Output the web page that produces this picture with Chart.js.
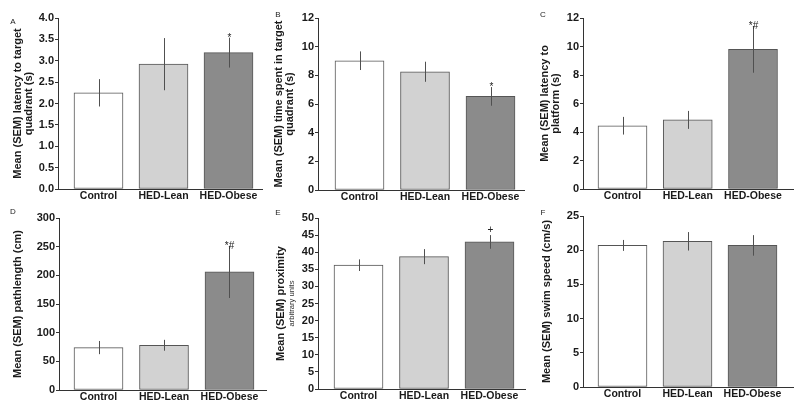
<!DOCTYPE html>
<html><head><meta charset="utf-8">
<script src="https://cdn.jsdelivr.net/npm/chart.js@4"></script>
<style>
html,body{margin:0;padding:0;background:#fff;}
body{width:800px;height:407px;position:relative;overflow:hidden;}
canvas{position:absolute;display:block;}
</style></head><body>
<canvas id="cA" width="270" height="204" style="left:0px;top:0px;"></canvas>
<canvas id="cB" width="270" height="204" style="left:265px;top:0px;"></canvas>
<canvas id="cC" width="270" height="204" style="left:530px;top:0px;"></canvas>
<canvas id="cD" width="270" height="207" style="left:0px;top:200px;"></canvas>
<canvas id="cE" width="270" height="207" style="left:265px;top:200px;"></canvas>
<canvas id="cF" width="270" height="207" style="left:530px;top:200px;"></canvas>
<script>
// ---- data ----
const categories = ["Control", "HED-Lean", "HED-Obese"];

const latencyQuadrantMean = [2.25, 2.92, 3.19];
const latencyQuadrantSem  = [0.32, 0.61, 0.35];
const latencyQuadrantSig  = ["", "", "*"];
const latencyQuadrantTicks = [0, 0.5, 1.0, 1.5, 2.0, 2.5, 3.0, 3.5, 4.0];

const timeQuadrantMean = [9.02, 8.25, 6.53];
const timeQuadrantSem  = [0.65, 0.70, 0.65];
const timeQuadrantSig  = ["", "", "*"];
const timeQuadrantTicks = [0, 2, 4, 6, 8, 10, 12];

const latencyPlatformMean = [4.44, 4.85, 9.80];
const latencyPlatformSem  = [0.62, 0.63, 1.64];
const latencyPlatformSig  = ["", "", "*#"];
const latencyPlatformTicks = [0, 2, 4, 6, 8, 10, 12];

const pathlengthMean = [74, 78, 206];
const pathlengthSem  = [11.5, 9.5, 45.5];
const pathlengthSig  = ["", "", "*#"];
const pathlengthTicks = [0, 50, 100, 150, 200, 250, 300];

const proximityMean = [36.2, 38.7, 43.0];
const proximitySem  = [1.7, 2.2, 2.0];
const proximitySig  = ["", "", "+"];
const proximityTicks = [0, 5, 10, 15, 20, 25, 30, 35, 40, 45, 50];

const swimSpeedMean = [20.7, 21.3, 20.7];
const swimSpeedSem  = [0.8, 1.35, 1.5];
const swimSpeedSig  = ["", "", ""];
const swimSpeedTicks = [0, 5, 10, 15, 20, 25];

// ---- styles / layout ----
const FONT = "'Liberation Sans', Arial, sans-serif";
const barColors = ["#ffffff", "#d2d2d2", "#8b8b8b"];
const barBorder = "#555555";
const axisColor = "#333333";
const textColor = "#1a1a1a";

const panels = [
  {id:"cA", letter:"A", title:["Mean (SEM) latency to target", "quadrant (s)"], sub:null,
   mean:latencyQuadrantMean, sem:latencyQuadrantSem, sig:latencyQuadrantSig, ticks:latencyQuadrantTicks, dec:1,
   L:{left:0, top:0, width:270, height:204, axisX:58, plotTop:18, plotBottom:189, plotRight:262, c0:98.5, c2:228.5, t1:18, lx:13, ly:22}},
  {id:"cB", letter:"B", title:["Mean (SEM) time spent in target", "quadrant (s)"], sub:null,
   mean:timeQuadrantMean, sem:timeQuadrantSem, sig:timeQuadrantSig, ticks:timeQuadrantTicks, dec:0,
   L:{left:265, top:0, width:270, height:204, axisX:318, plotTop:18, plotBottom:190, plotRight:524, c0:359.5, c2:490.5, t1:14, lx:13, ly:15}},
  {id:"cC", letter:"C", title:["Mean (SEM) latency to", "platform (s)"], sub:null,
   mean:latencyPlatformMean, sem:latencyPlatformSem, sig:latencyPlatformSig, ticks:latencyPlatformTicks, dec:0,
   L:{left:530, top:0, width:270, height:204, axisX:583, plotTop:18, plotBottom:189, plotRight:793, c0:622.5, c2:753, t1:15, lx:13, ly:15}},
  {id:"cD", letter:"D", title:"Mean (SEM) pathlength (cm)", sub:null,
   mean:pathlengthMean, sem:pathlengthSem, sig:pathlengthSig, ticks:pathlengthTicks, dec:0,
   L:{left:0, top:200, width:270, height:207, axisX:59, plotTop:218, plotBottom:390, plotRight:266, c0:98.5, c2:229.5, t1:18, lx:13, ly:12}},
  {id:"cE", letter:"E", title:"Mean (SEM) proximity", sub:"arbitrary units",
   mean:proximityMean, sem:proximitySem, sig:proximitySig, ticks:proximityTicks, dec:0,
   L:{left:265, top:200, width:270, height:207, axisX:318, plotTop:218, plotBottom:389, plotRight:525, c0:358.5, c2:489.5, t1:16, lx:13, ly:13}},
  {id:"cF", letter:"F", title:"Mean (SEM) swim speed (cm/s)", sub:null,
   mean:swimSpeedMean, sem:swimSpeedSem, sig:swimSpeedSig, ticks:swimSpeedTicks, dec:0,
   L:{left:530, top:200, width:270, height:207, axisX:583, plotTop:216, plotBottom:387, plotRight:793, c0:622.5, c2:752.5, t1:17, lx:13, ly:13}}
];

function makePlugin(p) {
  return {
    id: "extras" + p.id,
    afterDatasetsDraw(chart) {
      const ctx = chart.ctx;
      const ys = chart.scales.y;
      const meta = chart.getDatasetMeta(0);
      ctx.save();
      meta.data.forEach((bar, i) => {
        const yTop = ys.getPixelForValue(p.mean[i] + p.sem[i]);
        const yBot = ys.getPixelForValue(p.mean[i] - p.sem[i]);
        const x = Math.round(bar.x) + 0.5;
        ctx.strokeStyle = "#505050";
        ctx.lineWidth = 1;
        ctx.beginPath();
        ctx.moveTo(x, yTop);
        ctx.lineTo(x, yBot);
        ctx.stroke();
        if (p.sig[i]) {
          ctx.fillStyle = "#222";
          ctx.font = "10px " + FONT;
          ctx.textAlign = "center";
          ctx.textBaseline = "alphabetic";
          const base = p.sig[i].indexOf("+") >= 0 ? yTop - 2 : yTop + 3;
          ctx.fillText(p.sig[i], x, base);
        }
      });
      // panel letter
      ctx.fillStyle = "#222";
      ctx.font = "8px " + FONT;
      ctx.textAlign = "center";
      ctx.textBaseline = "middle";
      ctx.fillText(p.letter, p.L.lx, p.L.ly);
      // sub-title (smaller, regular)
      if (p.sub) {
        const cy = (chart.chartArea.top + chart.chartArea.bottom) / 2;
        ctx.translate(p.L.t1 + 11, cy);
        ctx.rotate(-Math.PI / 2);
        ctx.fillStyle = "#333";
        ctx.font = "7.6px " + FONT;
        ctx.textAlign = "center";
        ctx.textBaseline = "middle";
        ctx.fillText(p.sub, 0, 0);
      }
      ctx.restore();
    }
  };
}

panels.forEach(p => {
  const L = p.L;
  const spacing = (L.c2 - L.c0) / 2;
  const xMin = -(L.c0 - L.axisX) / spacing;
  const xMax = 2 + (L.plotRight - L.c2) / spacing;
  const yWidth = L.axisX - L.left;
  const xHeight = (L.top + L.height) - L.plotBottom;
  new Chart(document.getElementById(p.id), {
    type: "bar",
    data: {
      datasets: [{
        data: categories.map((c, i) => ({x: i, y: p.mean[i]})),
        backgroundColor: barColors,
        borderColor: barBorder,
        borderWidth: 1,
        borderSkipped: false,
        barThickness: 49
      }]
    },
    options: {
      responsive: false,
      animation: false,
      devicePixelRatio: 1,
      layout: {padding: {top: L.plotTop - L.top, right: (L.left + L.width) - L.plotRight, bottom: 0, left: 0}},
      plugins: {legend: {display: false}, tooltip: {enabled: false}},
      scales: {
        x: {
          type: "linear",
          offset: false,
          min: xMin, max: xMax,
          grid: {display: false, drawTicks: false, offset: false},
          border: {display: true, color: axisColor, width: 1},
          afterBuildTicks: s => { s.ticks = categories.map((c, i) => ({value: i})); },
          afterFit: s => { s.height = xHeight; },
          ticks: {
            callback: v => categories[v] ?? "",
            color: textColor, padding: 1, maxRotation: 0, autoSkip: false,
            font: {family: FONT, size: 10.5, weight: "bold"}
          }
        },
        y: {
          min: p.ticks[0], max: p.ticks[p.ticks.length - 1],
          afterBuildTicks: s => { s.ticks = p.ticks.map(v => ({value: v})); },
          afterFit: s => { s.width = yWidth; },
          grid: {display: true, drawOnChartArea: false, drawTicks: true, tickLength: 3, color: axisColor},
          border: {display: true, color: axisColor, width: 1},
          ticks: {
            callback: v => v.toFixed(p.dec),
            color: textColor, padding: 1,
            font: {family: FONT, size: 11, weight: "bold"}
          },
          title: {
            display: true, text: p.title, color: textColor,
            padding: {top: L.t1 - 5.5, bottom: 0},
            font: {family: FONT, size: 11, weight: "bold", lineHeight: 1.02}
          }
        }
      }
    },
    plugins: [makePlugin(p)]
  });
});
</script>
</body></html>
